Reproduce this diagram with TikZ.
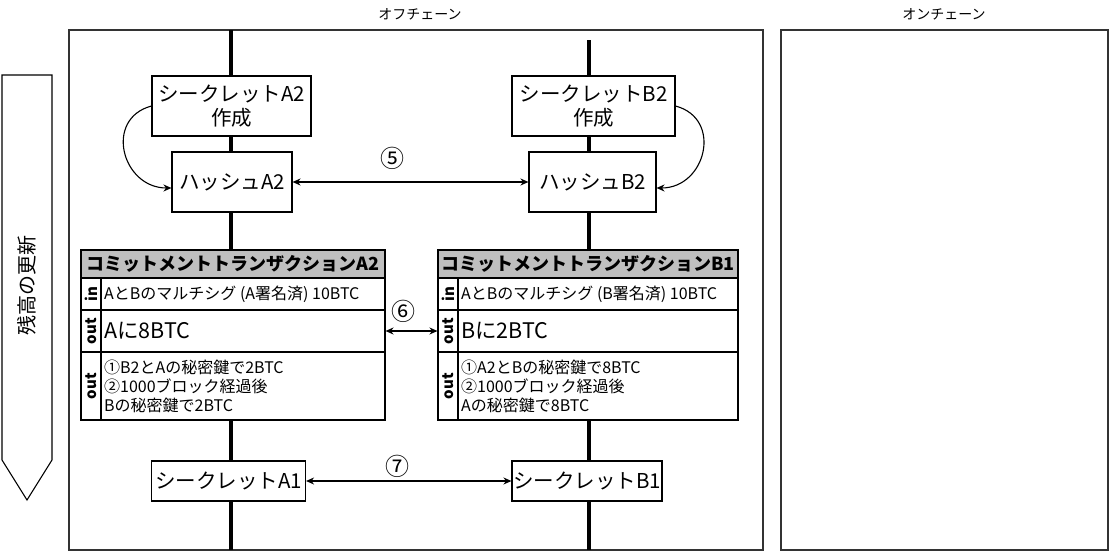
\documentclass[tikz,border=0pt]{standalone}
\usepackage{fontspec}
\setmainfont{Noto Sans CJK JP}
\usetikzlibrary{arrows.meta}

\begin{document}
\begin{tikzpicture}[x=1pt,y=-1pt,
		box/.style={draw, fill=white, line width=1.1pt, inner sep=0pt, align=center, font=\fontsize{20.5}{24}\selectfont},
		cell/.style={draw, fill=white, line width=1.1pt, inner sep=0pt},
		hdr/.style={cell, fill=black!25, font=\bfseries\fontsize{18}{21}\selectfont},
		tag/.style={rotate=90, inner sep=0pt, font=\bfseries\fontsize{15}{18}\selectfont},
		txt/.style={anchor=west, inner sep=0pt, align=left},
		num/.style={inner sep=0pt, font=\fontsize{24}{28}\selectfont},
		msg/.style={line width=1.1pt, {Stealth[length=8pt,width=7pt]}-{Stealth[length=8pt,width=7pt]}},
		life/.style={line width=3.5pt}]
			\useasboundingbox (0,0) rectangle (1112,554);
			% frames
			\draw [line width=1.6pt, black!80] (69,30) rectangle (763,550);
			\draw [line width=1.6pt, black!80] (781,30) rectangle (1108,550);
			\node [font=\fontsize{14}{17}\selectfont] (off) at (420,14) {オフチェーン};
			\node [font=\fontsize{14}{17}\selectfont] (on) at (944,14) {オンチェーン};
			% balance update arrow
			\draw [line width=1.1pt] (2,75) -- (52,75) -- (52,460) -- (27,500) -- (2,460) -- cycle;
			\node [rotate=90, font=\fontsize{20}{24}\selectfont] (upd) at (27,285) {残高の更新};
			% lifelines
			\draw [life] (231,30) -- (231,550);
			\draw [life] (589,40) -- (589,550);
			% secrets and hashes
			\node [box, minimum width=159, minimum height=60] (sa2) at (231.5,106) {シークレットA2\\作成};
			\node [box, minimum width=120, minimum height=60] (ha2) at (232,182) {ハッシュA2};
			\node [box, minimum width=163, minimum height=60] (sb2) at (593.5,106) {シークレットB2\\作成};
			\node [box, minimum width=127, minimum height=60] (hb2) at (592.5,182) {ハッシュB2};
			\draw [line width=1.1pt, -{Stealth[length=8pt,width=7pt]}] (sa2.west) to [out=195, in=180, looseness=1.5] ([yshift=-6pt]ha2.west);
			\draw [line width=1.1pt, -{Stealth[length=8pt,width=7pt]}] (sb2.east) to [out=-15, in=0, looseness=1.5] ([yshift=-6pt]hb2.east);
			\draw [msg] (ha2) -- (hb2);
			\node [num] (n5) at (392,158) {⑤};
			% commitment A2
			\node [hdr, minimum width=304, minimum height=28] (ca2) at (233,264) {コミットメントトランザクションA2};
			\node [cell, minimum width=304, minimum height=32] (ca2in) at (233,294) {};
			\node [cell, minimum width=304, minimum height=42] (ca2o1) at (233,331) {};
			\node [cell, minimum width=304, minimum height=68] (ca2o2) at (233,386) {};
			\draw [line width=1.1pt] (101,278) -- (101,420);
			\node [tag] at (91,294) {in};
			\node [tag] at (91,331) {out};
			\node [tag] at (91,386) {out};
			\node [txt, font=\fontsize{16}{19}\selectfont] at (104,294) {AとBのマルチシグ (A署名済) 10BTC};
			\node [txt, font=\fontsize{21.5}{25}\selectfont] at (104,331) {Aに8BTC};
			\node [txt, font=\fontsize{16}{19}\selectfont] at (104,386) {①B2とAの秘密鍵で2BTC\\②1000ブロック経過後\\Bの秘密鍵で2BTC};
			% commitment B1
			\node [hdr, minimum width=300, minimum height=28] (cb1) at (588,264) {コミットメントトランザクションB1};
			\node [cell, minimum width=300, minimum height=32] (cb1in) at (588,294) {};
			\node [cell, minimum width=300, minimum height=42] (cb1o1) at (588,331) {};
			\node [cell, minimum width=300, minimum height=68] (cb1o2) at (588,386) {};
			\draw [line width=1.1pt] (458,278) -- (458,420);
			\node [tag] at (448,294) {in};
			\node [tag] at (448,331) {out};
			\node [tag] at (448,386) {out};
			\node [txt, font=\fontsize{16}{19}\selectfont] at (461,294) {AとBのマルチシグ (B署名済) 10BTC};
			\node [txt, font=\fontsize{21.5}{25}\selectfont] at (461,331) {Bに2BTC};
			\node [txt, font=\fontsize{16}{19}\selectfont] at (461,386) {①A2とBの秘密鍵で8BTC\\②1000ブロック経過後\\Aの秘密鍵で8BTC};
			\draw [msg] (ca2o1) -- (cb1o1);
			\node [num] (n6) at (403,311) {⑥};
			% secrets 1
			\node [box, minimum width=154, minimum height=40] (sa1) at (228.5,481) {シークレットA1};
			\node [box, minimum width=150, minimum height=40] (sb1) at (587,481) {シークレットB1};
			\draw [msg] (sa1) -- (sb1);
			\node [num] (n7) at (397,466) {⑦};
		\end{tikzpicture}
\end{document}
